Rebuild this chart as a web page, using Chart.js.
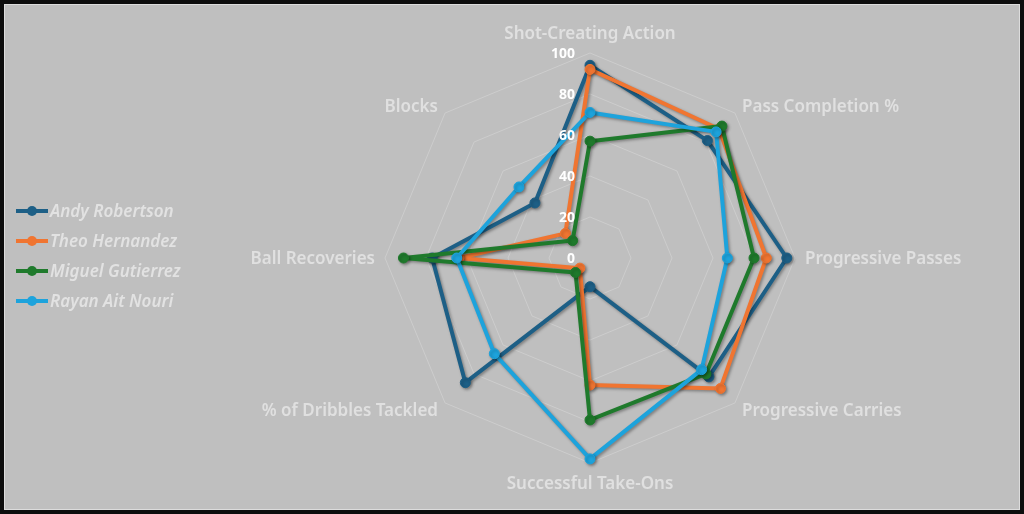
<!DOCTYPE html>
<html>
<head>
<meta charset="utf-8">
<script src="https://cdn.jsdelivr.net/npm/chart.js@4"></script>
<style>
  html, body { margin: 0; padding: 0; background: #bfbfbf; }
  #wrap { position: relative; width: 1024px; height: 514px; overflow: hidden; }
  #c { position: absolute; left: 0; top: 0; }
  #frame { position: absolute; left: 0; top: 0; width: 1024px; height: 514px; box-sizing: border-box;
           border: 4px solid #0d0d0d; box-shadow: inset 0 0 0 1px #dcdcdc; pointer-events: none; }
</style>
</head>
<body>
<div id="wrap">
  <canvas id="c" width="1024" height="514"></canvas>
  <div id="frame"></div>
</div>
<script>
const categories = ['Shot-Creating Action', 'Pass Completion %', 'Progressive Passes', 'Progressive Carries',
                    'Successful Take-Ons', '% of Dribbles Tackled', 'Ball Recoveries', 'Blocks'];
const seriesNames = ['Andy Robertson', 'Theo Hernandez', 'Miguel Gutierrez', 'Rayan Ait Nouri'];
const andyRobertson  = [94, 81, 96, 82, 14, 86, 77, 38];
const theoHernandez  = [92, 89, 86, 90, 62, 7, 64, 17];
const miguelGutierrez = [57, 91, 80, 80, 79, 10, 91, 12];
const rayanAitNouri  = [71, 87, 67, 77, 98, 66, 65, 49];
const tickValues = [0, 20, 40, 60, 80, 100];

const seriesValues = [andyRobertson, theoHernandez, miguelGutierrez, rayanAitNouri];
const seriesColors = ['#1d5f86', '#f07531', '#1f7a2c', '#1da3dc'];

const FONT = '"Noto Sans", "Open Sans", sans-serif';

const datasets = seriesNames.map((name, i) => ({
  label: name,
  data: seriesValues[i],
  borderColor: seriesColors[i],
  backgroundColor: seriesColors[i],
  pointBackgroundColor: seriesColors[i],
  pointBorderColor: seriesColors[i],
  borderWidth: 4,
  pointRadius: 5,
  pointBorderWidth: 1,
  fill: false,
  tension: 0,
  order: seriesNames.length - i
}));

const bgPlugin = {
  id: 'bg',
  beforeDraw(chart) {
    const ctx = chart.ctx;
    ctx.save();
    ctx.fillStyle = '#bfbfbf';
    ctx.fillRect(0, 0, chart.width, chart.height);
    ctx.restore();
  }
};

const shadowPlugin = {
  id: 'shadow',
  beforeDatasetDraw(chart) {
    const ctx = chart.ctx;
    ctx.save();
    ctx.shadowColor = 'rgba(0,0,0,0.35)';
    ctx.shadowBlur = 3;
    ctx.shadowOffsetX = 1.5;
    ctx.shadowOffsetY = 1.5;
  },
  afterDatasetDraw(chart) {
    chart.ctx.restore();
  }
};

const labelPlugin = {
  id: 'labels',
  afterDatasetsDraw(chart) {
    const ctx = chart.ctx;
    const scale = chart.scales.r;
    const outer = scale.getDistanceFromCenterForValue(100);
    ctx.save();
    // axis (point) labels
    ctx.font = '600 17px ' + FONT;
    ctx.fillStyle = '#e0e0e0';
    ctx.textBaseline = 'middle';
    const n = categories.length;
    categories.forEach((lab, i) => {
      let dist = outer + 10;
      let align;
      if (i === 0) { dist = outer + 20; align = 'center'; }
      else if (i === n / 2) { dist = outer + 20; align = 'center'; }
      else if (i < n / 2) { align = 'left'; }
      else { align = 'right'; }
      const p = scale.getPointPosition(i, dist);
      ctx.textAlign = align;
      ctx.fillText(lab, p.x, p.y + 1.5);
    });
    // tick labels
    ctx.font = 'bold 14px ' + FONT;
    ctx.fillStyle = '#ffffff';
    ctx.textAlign = 'right';
    tickValues.forEach(v => {
      const d = scale.getDistanceFromCenterForValue(v);
      const p = scale.getPointPosition(0, d);
      ctx.fillText(String(v), p.x - 15, p.y + 1);
    });
    ctx.restore();
  },
  afterDraw(chart) {
    const ctx = chart.ctx;
    ctx.save();
    ctx.font = 'italic 600 17px ' + FONT;
    ctx.textBaseline = 'middle';
    ctx.textAlign = 'left';
    chart.data.datasets.forEach((ds, i) => {
      const y = 211 + i * 30;
      ctx.strokeStyle = ds.borderColor;
      ctx.lineWidth = 4;
      ctx.beginPath();
      ctx.moveTo(16, y);
      ctx.lineTo(48, y);
      ctx.stroke();
      ctx.fillStyle = ds.borderColor;
      ctx.beginPath();
      ctx.arc(32, y, 5, 0, Math.PI * 2);
      ctx.fill();
      ctx.fillStyle = '#e2e2e2';
      ctx.fillText(ds.label, 50, y + 1);
    });
    ctx.restore();
  }
};

new Chart(document.getElementById('c'), {
  type: 'radar',
  data: { labels: categories, datasets },
  options: {
    responsive: false,
    animation: false,
    devicePixelRatio: 1,
    layout: { padding: { left: 385, right: 229, top: 53, bottom: 51 } },
    plugins: { legend: { display: false }, tooltip: { enabled: false } },
    elements: { line: { borderJoinStyle: 'round' } },
    scales: {
      r: {
        min: 0,
        max: 100,
        ticks: { stepSize: 20, display: false },
        pointLabels: { display: false },
        angleLines: { display: false },
        grid: { color: '#cdcdcd', lineWidth: 1 }
      }
    }
  },
  plugins: [bgPlugin, shadowPlugin, labelPlugin]
});
</script>
</body>
</html>
